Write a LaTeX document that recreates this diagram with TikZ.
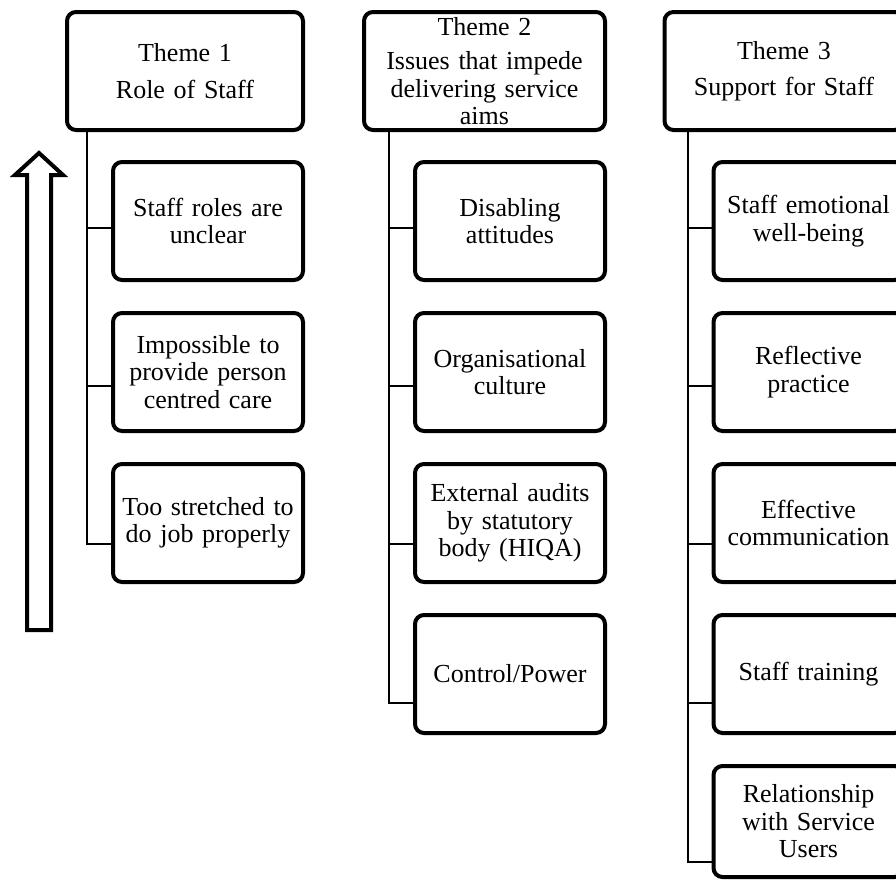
\documentclass[tikz,border=0pt]{standalone}
\usepackage{fontspec}
\setmainfont{Liberation Serif}
\usetikzlibrary{positioning}

\begin{document}
\begin{tikzpicture}[x=1pt,y=1pt,
                    box/.style={draw,line width=4pt,rounded corners=9pt,align=center,inner sep=0pt,
                                minimum height=118pt,font=\fontsize{26}{27.5}\selectfont},
                    theme/.style={box,text width=226pt},
                    item/.style={box,text width=186pt,minimum width=190pt},
                    link/.style={line width=2pt}]
                    \clip (0,0) rectangle (896,-881);
                    \node[theme,minimum width=236pt] (t1) at (185,-71) {Theme 1\\[10pt]Role of Staff};
                    \node[theme,minimum width=241pt] (t2) at (484.5,-71) {Theme 2\\[7pt]Issues that impede\\delivering service\\aims};
                    \node[theme,minimum width=239pt] (t3) at (784,-71) {Theme 3\\[8pt]Support for Staff};

                    \node[item,below=28pt of t1.south east,anchor=north east] (r1) {Staff roles are\\unclear};
                    \node[item,below=29pt of r1] (r2) {Impossible to\\provide person\\centred care};
                    \node[item,below=29pt of r2] (r3) {Too stretched to\\do job properly};

                    \node[item,below=28pt of t2.south east,anchor=north east] (i1) {Disabling\\attitudes};
                    \node[item,below=29pt of i1] (i2) {Organisational\\culture};
                    \node[item,below=29pt of i2] (i3) {External audits\\by statutory\\body (HIQA)};
                    \node[item,below=29pt of i3] (i4) {Control/Power};

                    \node[item,below=28pt of t3.south east,anchor=north east] (u1) {Staff emotional\\well-being};
                    \node[item,below=29pt of u1] (u2) {Reflective\\practice};
                    \node[item,below=29pt of u2] (u3) {Effective\\communication};
                    \node[item,below=29pt of u3] (u4) {Staff training};
                    \node[item,below=29pt of u4,minimum height=111pt] (u5) {Relationship\\with Service\\Users};

                    \coordinate (l1) at ([xshift=-24pt]r1.west);
                    \draw[link] (l1 |- t1.south) |- ([yshift=-21pt]r3.west);
                    \draw[link] ([yshift=-7pt]r1.west) -- ++(-24,0);
                    \draw[link] ([yshift=-14pt]r2.west) -- ++(-24,0);

                    \coordinate (l2) at ([xshift=-24pt]i1.west);
                    \draw[link] (l2 |- t2.south) |- ([yshift=-29pt]i4.west);
                    \draw[link] ([yshift=-7pt]i1.west) -- ++(-24,0);
                    \draw[link] ([yshift=-14pt]i2.west) -- ++(-24,0);
                    \draw[link] ([yshift=-21pt]i3.west) -- ++(-24,0);

                    \coordinate (l3) at ([xshift=-24pt]u1.west);
                    \draw[link] (l3 |- t3.south) |- ([yshift=-40pt]u5.west);
                    \draw[link] ([yshift=-7pt]u1.west) -- ++(-24,0);
                    \draw[link] ([yshift=-14pt]u2.west) -- ++(-24,0);
                    \draw[link] ([yshift=-21pt]u3.west) -- ++(-24,0);
                    \draw[link] ([yshift=-29pt]u4.west) -- ++(-24,0);

                    \draw[line width=4pt,fill=white] (39,-153) -- (63,-175) -- (51,-175) -- (51,-630)
                        -- (27,-630) -- (27,-175) -- (15,-175) -- cycle;
\end{tikzpicture}
\end{document}
